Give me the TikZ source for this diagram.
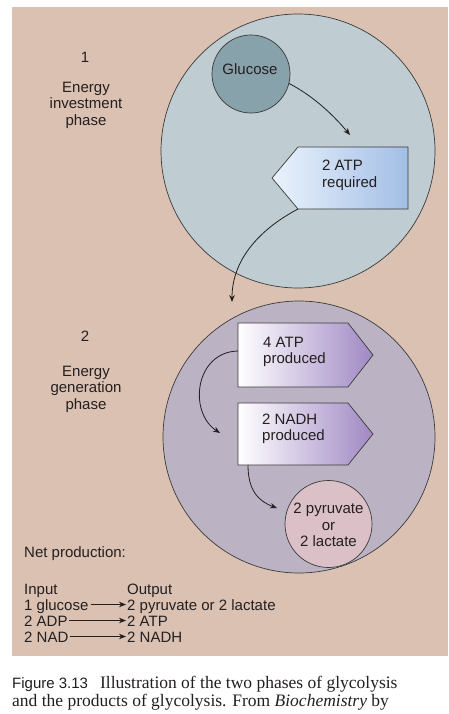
\documentclass[tikz,border=0pt]{standalone}
\usepackage{fontspec}
\setmainfont{Liberation Sans}
\newfontfamily\capserif{Liberation Serif}
\usetikzlibrary{arrows.meta}
\definecolor{bgc}{HTML}{DBC1B2}
\definecolor{cblue}{HTML}{BFCCD1}
\definecolor{cglu}{HTML}{87A2AB}
\definecolor{cpur}{HTML}{BBB3C3}
\definecolor{cpyr}{HTML}{DCC0C7}
\definecolor{gbl}{HTML}{EAF3FD}
\definecolor{gbr}{HTML}{A3BEE5}
\definecolor{gpr}{HTML}{A088C3}
\definecolor{ink}{HTML}{231F20}
\definecolor{edge}{HTML}{3A3A3A}
\tikzset{
  lbl/.style={inner sep=0pt, text=ink, font=\fontsize{15}{16.5}\selectfont},
  conn/.style={draw=ink, line width=0.8pt, -{Stealth[length=7pt,width=5.5pt]}},
  outl/.style={draw=edge, line width=0.7pt},
}
\begin{document}
\begin{tikzpicture}[x=1pt,y=-1pt]
\useasboundingbox (0,0) rectangle (448,714);
\fill[white] (0,0) rectangle (448,714);
\fill[bgc] (12,7) rectangle (448,656);
% phase 1
\path[outl, fill=cblue] (298,151) circle[radius=137];
\node[outl, fill=cglu, circle, minimum size=78pt, inner sep=0pt] (glu) at (251,74) {};
\node[lbl] (glut) at (250,69) {Glucose};
\shade[outl, left color=gbl, right color=gbr] (272,178) -- (298,147) -- (408,147) -- (408,209) -- (298,209) -- cycle;
\coordinate (atp2bl) at (298,209);
\node[lbl, align=left, anchor=west] (atp2) at (322,175.5) {2 ATP\\required};
% phase 2
\path[outl, fill=cpur] (299,437) circle[radius=136];
\shade[outl, left color=white, right color=gpr] (238,323) -- (348,323) -- (373,355) -- (348,387) -- (238,387) -- cycle;
\coordinate (atp4l) at (238,351);
\node[lbl, align=left, anchor=west] (atp4) at (263,352) {4 ATP\\produced};
\shade[outl, left color=white, right color=gpr] (238,403) -- (348,403) -- (373,434) -- (348,465) -- (238,465) -- cycle;
\coordinate (nadhb) at (248,465);
\node[lbl, align=left, anchor=west] (nadh) at (262,429) {2 NADH\\produced};
\node[outl, fill=cpyr, circle, minimum size=87pt, inner sep=0pt] (pyr) at (328.5,524) {};
\node[lbl, align=center] (pyrt) at (328.5,525) {2 pyruvate\\or\\2 lactate};
% connectors
\coordinate (e1) at (350,135);
\coordinate (e2) at (232,302);
\coordinate (e3) at (220,433);
\coordinate (e4) at (277,508);
\draw[conn] (glu.-14) .. controls (315,97) and (335,117) .. (e1);
\draw[conn] (atp2bl) .. controls (262,228) and (232,258) .. (e2);
\draw[conn] (atp4l) .. controls (195,352) and (188,412) .. (e3);
\draw[conn] (nadhb) .. controls (248,490) and (258,501) .. (e4);
% left labels
\node[lbl] (n1) at (85,57) {1};
\node[lbl, align=center] (ph1) at (86,105) {Energy\\investment\\phase};
\node[lbl] (n2) at (85,336) {2};
\node[lbl, align=center] (ph2) at (86,389) {Energy\\generation\\phase};
% net production
\node[lbl, anchor=base west] (net) at (24,557) {Net production:};
\node[lbl, anchor=base west] (inp) at (24,594) {Input};
\node[lbl, anchor=base west] (outp) at (127,594) {Output};
\node[lbl, anchor=base west] (i1) at (24,610) {1 glucose};
\node[lbl, anchor=base west] (o1) at (127,610) {2 pyruvate or 2 lactate};
\node[lbl, anchor=base west] (i2) at (24,626) {2 ADP};
\node[lbl, anchor=base west] (o2) at (127,626) {2 ATP};
\node[lbl, anchor=base west] (i3) at (24,642) {2 NAD};
\node[lbl, anchor=base west] (o3) at (127,642) {2 NADH};
\draw[conn] ([xshift=2pt,yshift=5.5pt]i1.base east) -- ([xshift=-1pt,yshift=5.5pt]o1.base west);
\draw[conn] ([xshift=1pt,yshift=5.5pt]i2.base east) -- ([xshift=-1pt,yshift=5.5pt]o2.base west);
\draw[conn] ([xshift=1pt,yshift=5.5pt]i3.base east) -- ([xshift=-1pt,yshift=5.5pt]o3.base west);
% caption
\node[inner sep=0pt, anchor=base west, text=ink, font=\fontsize{17.5}{19}\selectfont] (cap1) at (12,688) {{\fontsize{15}{19}\selectfont Figure 3.13}\hspace{12pt}{\capserif Illustration of the two phases of glycolysis}};
\node[inner sep=0pt, anchor=base west, text=ink, font=\fontsize{17.5}{19}\selectfont\capserif] (cap2) at (12,706) {and the products of glycolysis. From \textit{Biochemistry} by};
\end{tikzpicture}
\end{document}
